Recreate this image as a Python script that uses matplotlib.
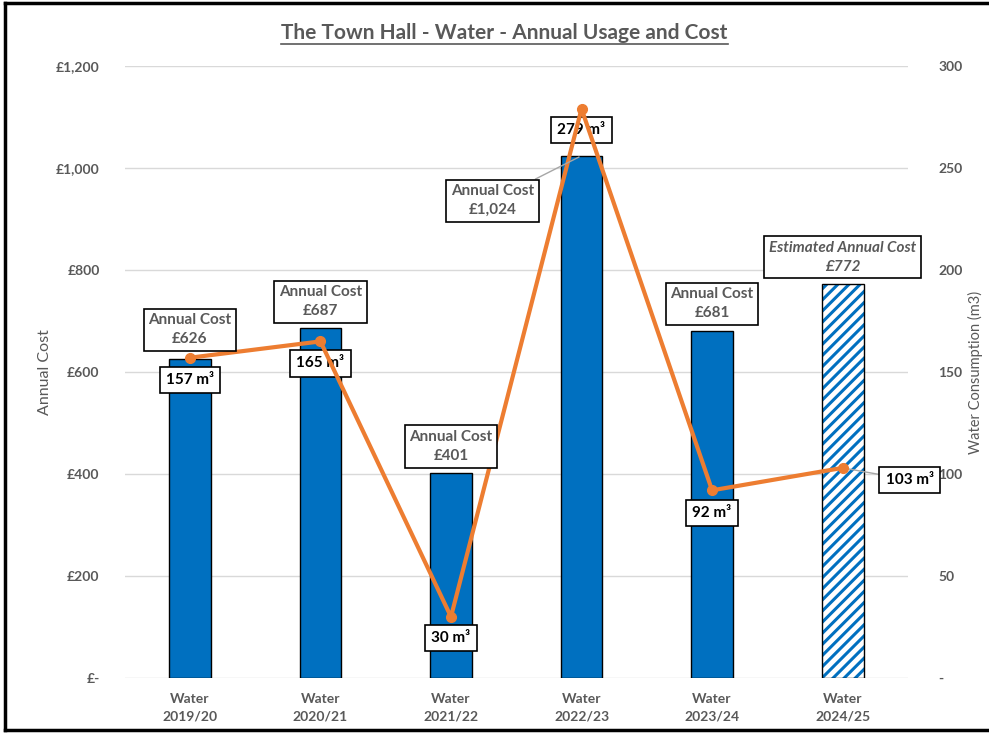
import matplotlib
matplotlib.use("Agg")
import matplotlib.pyplot as plt
from matplotlib.lines import Line2D

plt.rcParams['font.family'] = ['Lato', 'DejaVu Sans']
plt.rcParams['hatch.linewidth'] = 2.2

years = ["2019/20", "2020/21", "2021/22", "2022/23", "2023/24", "2024/25"]
cost = [626, 687, 401, 1024, 681, 772]
usage = [157, 165, 30, 279, 92, 103]
cost_titles = ["Annual Cost"] * 5 + ["Estimated Annual Cost"]
cost_ticks = [0, 200, 400, 600, 800, 1000, 1200]
cost_ticklabels = ["£-", "£200", "£400", "£600", "£800", "£1,000", "£1,200"]
usage_ticks = [0, 50, 100, 150, 200, 250, 300]
usage_ticklabels = ["-", "50", "100", "150", "200", "250", "300"]

grey = "#595959"
blue = "#0070C0"
orange = "#ED7D31"

fig = plt.figure(figsize=(9.89, 7.33), dpi=100)
ax1 = fig.add_axes([0.126, 0.075, 0.792, 0.835])
ax2 = ax1.twinx()

x = list(range(len(years)))
w = 0.32
# measured bars, last one is an estimate (hatched)
ax1.bar(x[:-1], cost[:-1], width=w, color=blue, edgecolor="black", linewidth=1, zorder=2)
ax1.bar(x[-1], cost[-1], width=w, color="white", edgecolor=blue, hatch="///", linewidth=0, zorder=2)
ax1.bar(x[-1], cost[-1], width=w, fill=False, edgecolor="black", linewidth=1, zorder=3)

ax1.set_ylim(0, 1200)
ax1.set_xlim(-0.5, len(years) - 0.5)
ax1.set_yticks(cost_ticks)
ax1.set_yticklabels(cost_ticklabels)
ax1.yaxis.grid(True, color="#D9D9D9", linewidth=1, zorder=0)
ax1.set_axisbelow(True)
ax1.set_xticks(x)
ax1.set_xticklabels(["Water\n" + y for y in years])
ax1.tick_params(axis="x", length=0, pad=11, labelsize=10, labelcolor=grey)
ax1.tick_params(axis="y", length=0, pad=18, labelsize=10, labelcolor=grey)
for t in ax1.get_xticklabels():
    t.set_fontweight("bold")
    t.set_linespacing(1.5)
for t in ax1.get_yticklabels():
    t.set_fontweight("bold")
ax1.set_ylabel("Annual Cost", color=grey, fontsize=11.5, labelpad=3)

ax2.plot(x, usage, color=orange, linewidth=3, marker="o", markersize=7, zorder=5)
ax2.set_ylim(0, 300)
ax2.set_yticks(usage_ticks)
ax2.set_yticklabels(usage_ticklabels)
ax2.tick_params(axis="y", length=0, pad=22, labelsize=10, labelcolor=grey)
for t in ax2.get_yticklabels():
    t.set_fontweight("bold")
    t.set_horizontalalignment("left")
ax2.set_ylabel("Water Consumption (m3)", color=grey, fontsize=10.5, rotation=90, labelpad=4)

for a in (ax1, ax2):
    for s in a.spines.values():
        s.set_visible(False)

# cost labels (pixel offsets from bar top)
cost_off = [(0, 29), (0, 26), (0, 27), (-89, -45), (0, 27), (0, 27)]
for i in x:
    style = "italic" if i == len(years) - 1 else "normal"
    arrow = dict(arrowstyle="-", color="#A6A6A6", lw=1, shrinkA=0, shrinkB=2) if i == 3 else None
    ax2.annotate(f"{cost_titles[i]}\n£{cost[i]:,}", xy=(i, cost[i]), xycoords=ax1.transData,
                 xytext=cost_off[i], textcoords="offset pixels", ha="center", va="center",
                 fontsize=11, fontweight="bold", color=grey, fontstyle=style, linespacing=1.45,
                 bbox=dict(boxstyle="square,pad=0.3", fc="white", ec="black", lw=1.2),
                 arrowprops=arrow, zorder=6)

# usage labels
use_off = [(0, -22), (0, -22), (0, -21), (0, -21), (0, -23), (67, -12)]
for i in x:
    arrow = dict(arrowstyle="-", color="#A6A6A6", lw=1, shrinkA=0, shrinkB=4) if i == 5 else None
    ax2.annotate(f"{usage[i]} m³", xy=(i, usage[i]), xytext=use_off[i], textcoords="offset pixels",
                 ha="center", va="center", fontsize=11, fontweight="bold", color="black",
                 bbox=dict(boxstyle="square,pad=0.4", fc="white", ec="black", lw=1.2),
                 arrowprops=arrow, zorder=4)

title = fig.text(0.51, 0.955, "The Town Hall - Water - Annual Usage and Cost", ha="center", va="center",
                 fontsize=15, fontweight="bold", color=grey)
fig.canvas.draw()
bb = title.get_window_extent().transformed(fig.transFigure.inverted())
fig.add_artist(Line2D([bb.x0, bb.x1], [bb.y0 - 0.002, bb.y0 - 0.002], color=grey, lw=1.2,
                      transform=fig.transFigure))

# outer frame
for xs, ys in [([0.005, 0.005], [0.004, 0.996]), ([0.005, 1.0], [0.996, 0.996]), ([0.005, 1.0], [0.004, 0.004])]:
    fig.add_artist(Line2D(xs, ys, color="black", lw=2.5, transform=fig.transFigure))

fig.savefig("out.png", dpi=100)
